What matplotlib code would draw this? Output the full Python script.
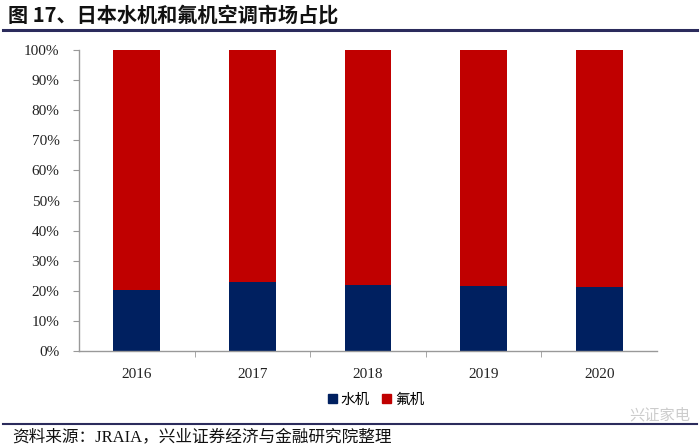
import matplotlib.pyplot as plt
import matplotlib.lines as mlines
import matplotlib.patches as mpatches
from matplotlib.ticker import PercentFormatter

plt.rcParams['font.family'] = ['Liberation Serif', 'Noto Sans CJK SC']

years = ["2016", "2017", "2018", "2019", "2020"]
water = [20.2, 22.9, 22.0, 21.6, 21.4]   # 水机 share (%)
fluor = [100 - v for v in water]          # 氟机 share (%)
yticks = list(range(0, 101, 10))

BLUE = "#002060"
RED = "#C00000"
CJK = ['Noto Sans CJK SC', 'DejaVu Sans']
MIXED = ['Liberation Serif', 'Noto Sans CJK SC']

fig = plt.figure(figsize=(7, 4.47), dpi=100)
ax = fig.add_axes([79 / 700, 1 - 351 / 447, (657 - 79) / 700, 301 / 447])

x = range(len(years))
ax.bar(x, water, width=0.405, color=BLUE)
ax.bar(x, fluor, width=0.405, bottom=water, color=RED)

ax.set_xlim(-0.5, len(years) - 0.5)
ax.set_ylim(0, 100)
ax.set_yticks(yticks)
ax.yaxis.set_major_formatter(PercentFormatter(decimals=0))
ax.set_xticks(list(x))
ax.set_xticklabels(years)
ax.set_xticks([i + 0.5 for i in range(len(years) - 1)], minor=True)
ax.tick_params(axis='x', which='major', length=0, pad=12, labelsize=11)
ax.tick_params(axis='x', which='minor', length=4, color='#999999', direction='out')
ax.tick_params(axis='y', length=4, color='#999999', labelsize=11, pad=10)
for lbl in ax.get_xticklabels() + ax.get_yticklabels():
    lbl.set_color('#222222')

for side in ['top', 'right']:
    ax.spines[side].set_visible(False)
for side in ['left', 'bottom']:
    ax.spines[side].set_color('#999999')
    ax.spines[side].set_linewidth(1)

# legend
handles = [mpatches.Patch(color=BLUE, label="水机"), mpatches.Patch(color=RED, label="氟机")]
fig.legend(handles=handles, loc='center', bbox_to_anchor=(376 / 700, 1 - 400 / 447), ncol=2,
           frameon=False, prop={'family': CJK, 'size': 10.5}, handlelength=0.6, handleheight=0.6,
           handletextpad=0.3, columnspacing=0.8)

# title and rules
fig.text(8 / 700, 1 - 15 / 447, "图 17、日本水机和氟机空调市场占比", fontsize=14.5, fontweight='bold',
         family=CJK, va='center', ha='left', color='#111111')
fig.add_artist(mlines.Line2D([3 / 700, 697 / 700], [1 - 30 / 447, 1 - 30 / 447],
                             color='#2b2b5c', linewidth=2.2))
fig.add_artist(mlines.Line2D([3 / 700, 697 / 700], [1 - 424 / 447, 1 - 424 / 447],
                             color='#2b2b5c', linewidth=1.5))
fig.text(12 / 700, 1 - 437 / 447, "资料来源：JRAIA，兴业证券经济与金融研究院整理", fontsize=12,
         family=MIXED, va='center', ha='left', color='#111111')
fig.text(690 / 700, 1 - 415 / 447, "兴证家电", fontsize=11, family=CJK, va='center', ha='right',
         color='#cccccc')

fig.savefig("out.png", dpi=100)
